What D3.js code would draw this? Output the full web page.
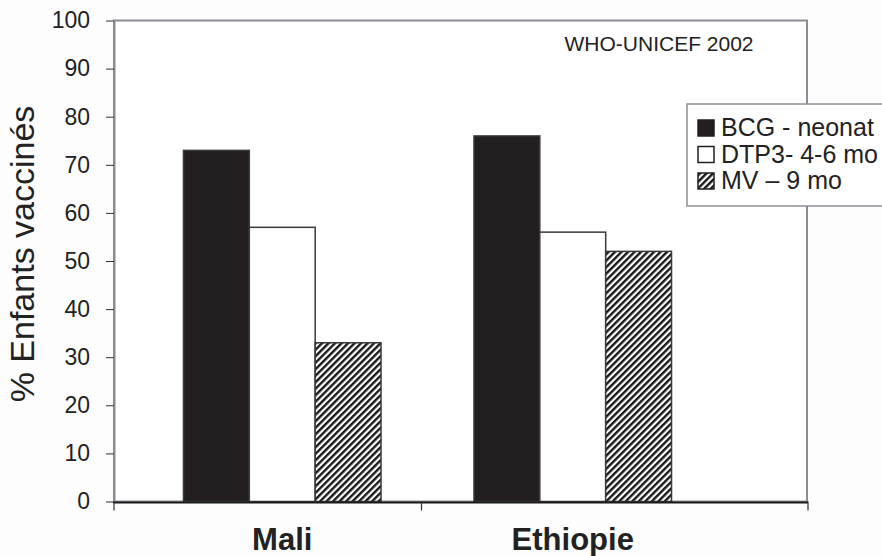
<!DOCTYPE html>
<html><head><meta charset="utf-8">
<script src="https://cdn.jsdelivr.net/npm/d3@7"></script>
<style>html,body{margin:0;padding:0;background:#fdfdfd;}svg{display:block;}</style>
</head><body>
<script>
const categories = ["Mali", "Ethiopie"];
const seriesNames = ["BCG - neonat", "DTP3- 4-6 mo", "MV \u2013 9 mo"];
const bcg = [73, 76];
const dtp3 = [57, 56];
const mv = [33, 52];
const yTicks = [0, 10, 20, 30, 40, 50, 60, 70, 80, 90, 100];
const source = "WHO-UNICEF 2002";
const yTitle = "% Enfants vaccinés";

const W = 882, H = 556;
const L = 114, R = 807, T = 20.5, B = 501.5;
const svg = d3.select("body").append("svg").attr("width", W).attr("height", H);
svg.append("rect").attr("width", W).attr("height", H).attr("fill", "#fdfdfd");

const defs = svg.append("defs");
const pat = defs.append("pattern").attr("id", "hatch").attr("patternUnits", "userSpaceOnUse")
  .attr("width", 4.6).attr("height", 4.6).attr("patternTransform", "rotate(45)");
pat.append("rect").attr("width", 4.6).attr("height", 4.6).attr("fill", "#fff");
pat.append("line").attr("x1", 1.2).attr("y1", 0).attr("x2", 1.2).attr("y2", 4.6)
  .attr("stroke", "#1a1718").attr("stroke-width", 2.4);

const fills = ["#231f20", "#ffffff", "url(#hatch)"];
const values = [bcg, dtp3, mv];

const y = d3.scaleLinear().domain([0, 100]).range([B, T]);
const x = d3.scaleBand().domain(categories).range([137, 718]);
const xi = d3.scaleBand().domain(seriesNames).range([x.bandwidth() * 0.16, x.bandwidth() * 0.84]);

// plot frame
svg.append("rect").attr("x", L).attr("y", T).attr("width", R - L).attr("height", B - T)
  .attr("fill", "#fff").attr("stroke", "#8a8e94").attr("stroke-width", 2);

// bars
categories.forEach((c, ci) => {
  seriesNames.forEach((s, si) => {
    svg.append("rect")
      .attr("x", x(c) + xi(s)).attr("y", y(values[si][ci]))
      .attr("width", xi.bandwidth()).attr("height", y(0) - y(values[si][ci]))
      .attr("fill", fills[si]).attr("stroke", "#3a3a3a").attr("stroke-width", 1.5);
  });
});

// y axis
const yAxis = d3.axisLeft(y).tickValues(yTicks).tickSize(8).tickPadding(16).tickSizeOuter(0);
const gy = svg.append("g").attr("transform", `translate(${L},0)`).call(yAxis);
gy.select(".domain").attr("stroke", "#8a8e94").attr("stroke-width", 2);
gy.selectAll(".tick line").attr("stroke", "#333");
gy.selectAll("text").attr("font-family", "Liberation Sans, Arial, sans-serif")
  .attr("font-size", 23).attr("fill", "#222");

// x axis
svg.append("line").attr("x1", L - 1).attr("x2", R + 1).attr("y1", B + 1).attr("y2", B + 1)
  .attr("stroke", "#1a1a1a").attr("stroke-width", 2);
const xTickPos = [L, x(categories[1]) - 6, R + 1];
xTickPos.forEach(p => svg.append("line").attr("x1", p).attr("x2", p).attr("y1", B).attr("y2", B + 9)
  .attr("stroke", "#333").attr("stroke-width", 1.2));
categories.forEach(c => {
  svg.append("text").attr("x", x(c) + x.bandwidth() / 2).attr("y", 550)
    .attr("text-anchor", "middle").attr("font-family", "Liberation Sans, Arial, sans-serif")
    .attr("font-weight", "bold").attr("font-size", 31).attr("fill", "#222").text(c);
});

// y title
svg.append("text").attr("transform", "translate(34,254) rotate(-90)")
  .attr("text-anchor", "middle").attr("font-family", "Liberation Sans, Arial, sans-serif")
  .attr("font-size", 34).attr("fill", "#222").text(yTitle);

// source
svg.append("text").attr("x", 659).attr("y", 51).attr("text-anchor", "middle")
  .attr("font-family", "Liberation Sans, Arial, sans-serif").attr("font-size", 21)
  .attr("fill", "#222").text(source);

// legend
const lg = svg.append("g");
lg.append("rect").attr("x", 687).attr("y", 104).attr("width", 205).attr("height", 102)
  .attr("fill", "#fff").attr("stroke", "#8a8e94").attr("stroke-width", 1.5);
seriesNames.forEach((s, i) => {
  const by = 136 + i * 26.5;
  lg.append("rect").attr("x", 698).attr("y", by - 16).attr("width", 16).attr("height", 16)
    .attr("fill", fills[i]).attr("stroke", "#231f20").attr("stroke-width", 1.5);
  lg.append("text").attr("x", 721).attr("y", by)
    .attr("font-family", "Liberation Sans, Arial, sans-serif").attr("font-size", 25)
    .attr("fill", "#222").text(s);
});
</script>
</body></html>
